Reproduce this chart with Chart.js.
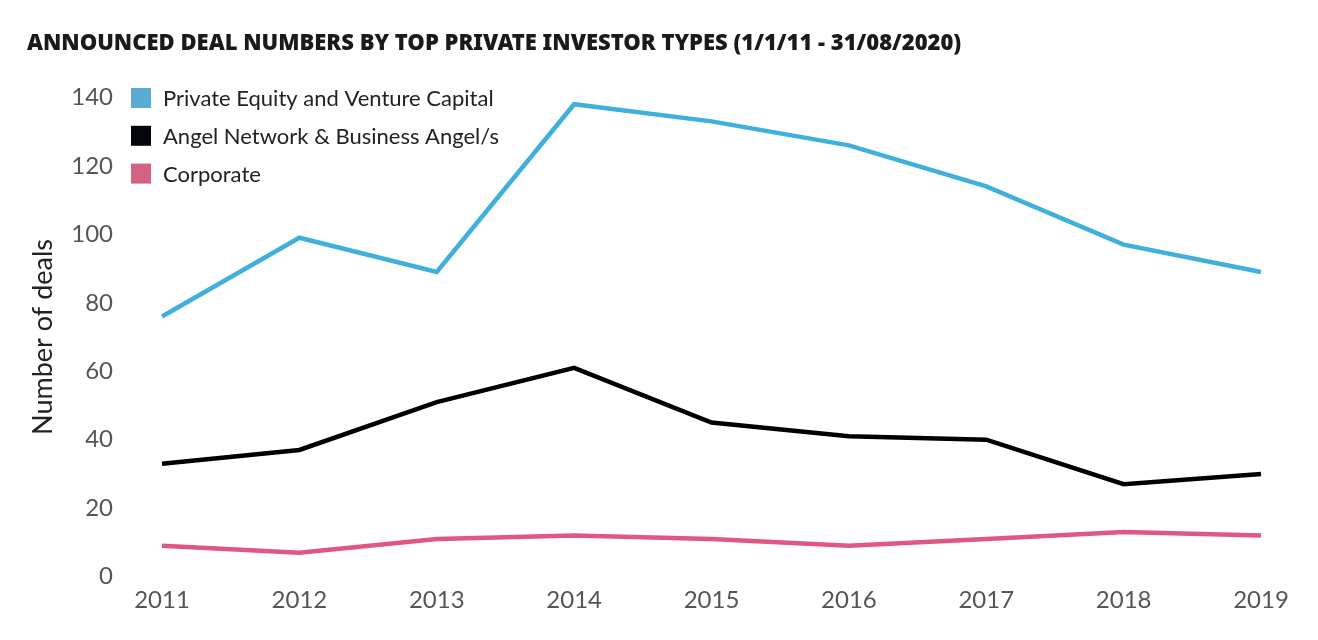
<!DOCTYPE html>
<html>
<head>
<meta charset="utf-8">
<script src="https://cdn.jsdelivr.net/npm/chart.js@4.4.0/dist/chart.umd.min.js"></script>
<style>
  html, body { margin: 0; padding: 0; background: #fff; }
  #wrap { width: 1318px; height: 640px; }
</style>
</head>
<body>
<div id="wrap"><canvas id="myChart"></canvas></div>
<script>
// data
const years = ['2011', '2012', '2013', '2014', '2015', '2016', '2017', '2018', '2019'];
const privateEquity = [76, 99, 89, 138, 133, 126, 114, 97, 89];
const angels = [33, 37, 51, 61, 45, 41, 40, 27, 30];
const corporate = [9, 7, 11, 12, 11, 9, 11, 13, 12];
const yTicks = [0, 20, 40, 60, 80, 100, 120, 140];

const seriesNames = ['Private Equity and Venture Capital', 'Angel Network & Business Angel/s', 'Corporate'];
const lineColors = ['#3fb0db', '#000000', '#e0587f'];
const boxColors = ['#5aaad4', '#04070b', '#d46282'];

// legend drawn inside the plot, top-left, as in the original
const legendInside = {
  id: 'legendInside',
  afterDraw(chart) {
    const c = chart.ctx;
    c.save();
    c.font = '22px Lato';
    c.textBaseline = 'middle';
    c.textAlign = 'left';
    seriesNames.forEach((name, i) => {
      const cy = 98 + i * 37.8;
      c.fillStyle = boxColors[i];
      c.fillRect(131, cy - 10, 20, 20);
      c.fillStyle = '#222';
      c.fillText(name, 163, cy + 1);
    });
    c.restore();
  }
};

const ctx = document.getElementById('myChart').getContext('2d');
const myChart = new Chart(ctx, {
  type: 'line',
  data: {
    labels: years,
    datasets: [
      { label: seriesNames[0], data: privateEquity, borderColor: lineColors[0] },
      { label: seriesNames[1], data: angels, borderColor: lineColors[1] },
      { label: seriesNames[2], data: corporate, borderColor: lineColors[2] }
    ]
  },
  options: {
    responsive: true,
    maintainAspectRatio: false,
    animation: false,
    elements: {
      line: { borderWidth: 4.5, tension: 0, fill: false },
      point: { radius: 0, hoverRadius: 0 }
    },
    layout: { padding: { left: 27, right: 57, top: 0, bottom: 15 } },
    plugins: {
      legend: { display: false },
      tooltip: { enabled: false },
      title: {
        display: true,
        text: 'ANNOUNCED DEAL NUMBERS BY TOP PRIVATE INVESTOR TYPES (1/1/11 - 31/08/2020)',
        align: 'start',
        color: '#1a1a1a',
        font: { family: 'Noto Sans', size: 22, weight: '900' },
        padding: { top: 31, bottom: 40 }
      }
    },
    scales: {
      x: {
        grid: { display: false, drawTicks: false },
        border: { display: false },
        ticks: {
          color: '#555',
          font: { family: 'Lato', size: 24 },
          padding: 9,
          maxRotation: 0
        }
      },
      y: {
        min: 0,
        max: 140,
        afterBuildTicks: (axis) => { axis.ticks = yTicks.map(v => ({ value: v })); },
        afterFit: (axis) => { axis.width = 135; },
        grid: { display: false, drawTicks: false },
        border: { display: false },
        title: {
          display: true,
          text: 'Number of deals',
          color: '#222',
          font: { family: 'Lato', size: 27 },
          padding: { top: 0, bottom: 0 }
        },
        ticks: {
          color: '#555',
          font: { family: 'Lato', size: 24 },
          padding: 49
        }
      }
    }
  },
  plugins: [legendInside]
});
</script>
</body>
</html>
